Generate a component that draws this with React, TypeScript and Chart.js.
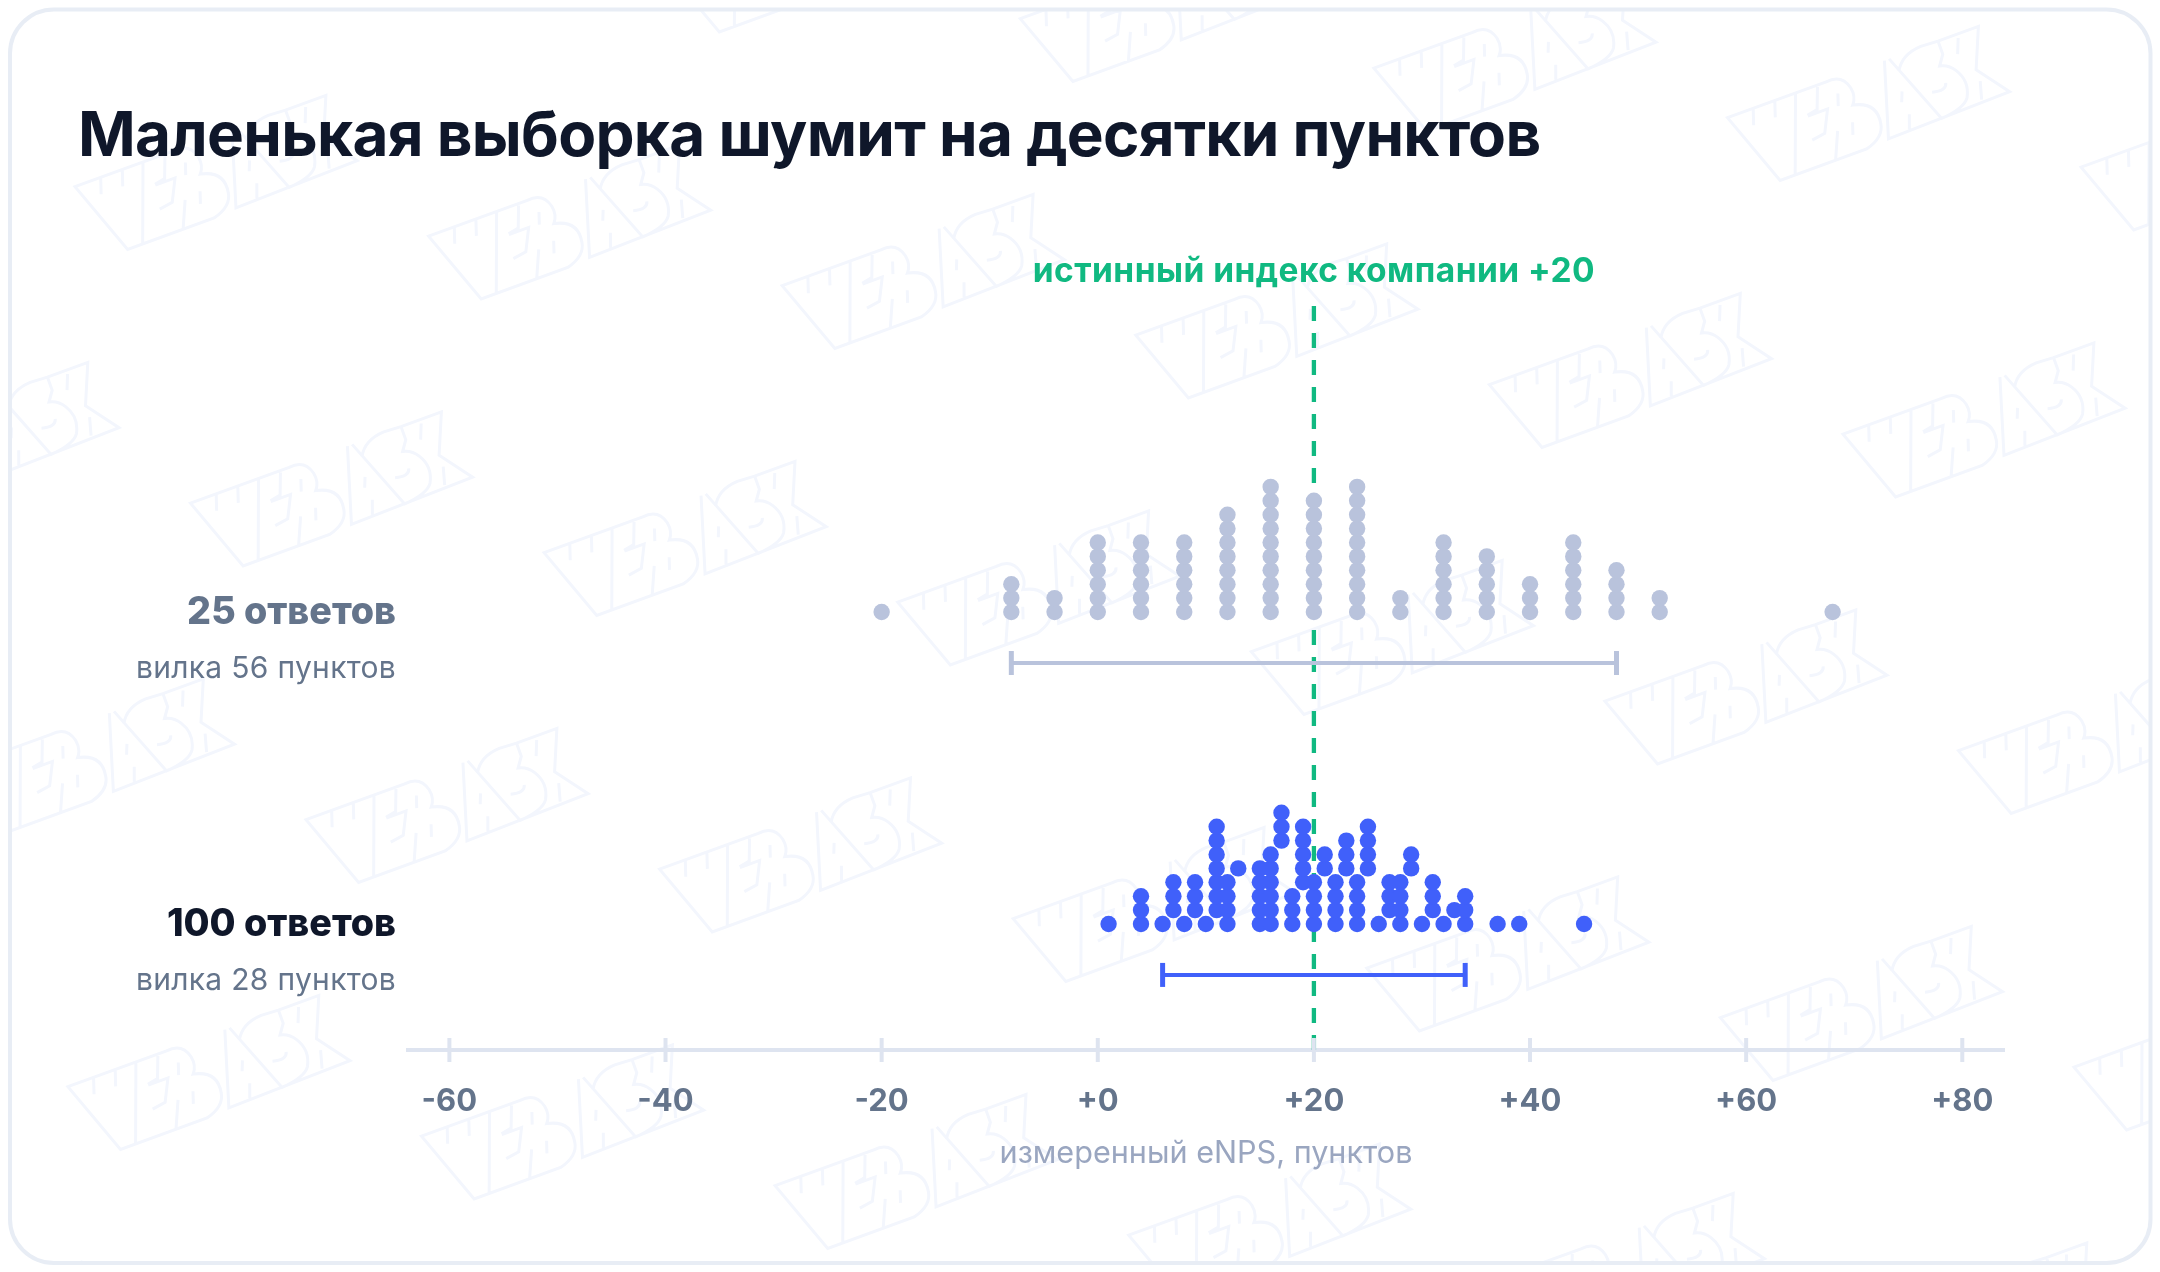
import React, { useEffect, useRef } from "react";
import { Chart, registerables } from "chart.js";

Chart.register(...registerables);

// 25 answers: one stack of dots per measured value
const smallValues = [-20, -8, -4, 0, 4, 8, 12, 16, 20, 24, 28, 32, 36, 40, 44, 48, 52, 68];
const smallCounts = [1, 3, 2, 6, 6, 6, 8, 10, 9, 10, 2, 6, 5, 3, 6, 4, 2, 1];
const smallRange = [-8, 48];

// 100 answers: stacks can start above the base row
const largeValues = [1, 4, 6, 7, 8, 9, 10, 11, 12, 13, 15, 16, 17, 18, 19, 20, 21, 22, 23, 24, 25, 26, 27, 28, 29, 30, 31, 32, 33, 34, 37, 39, 45];
const largeFirstRow = [0, 0, 0, 1, 0, 1, 0, 1, 0, 4, 0, 0, 6, 0, 3, 0, 4, 0, 4, 0, 4, 0, 1, 0, 4, 0, 1, 0, 1, 0, 0, 0, 0];
const largeCounts = [1, 3, 1, 3, 1, 3, 1, 7, 4, 1, 5, 6, 3, 3, 5, 4, 2, 4, 3, 4, 4, 1, 3, 4, 2, 1, 3, 1, 1, 3, 1, 1, 1];
const largeRange = [6, 34];

const trueIndex = 20;
const tickValues = [-60, -40, -20, 0, 20, 40, 60, 80];

const titleText = "Маленькая выборка шумит на десятки пунктов";
const truthText = "истинный индекс компании +20";
const axisTitle = "измеренный eNPS, пунктов";
const rowLabels = ["25 ответов", "100 ответов"];
const rowSubLabels = ["вилка 56 пунктов", "вилка 28 пунктов"];

// y axis is counted in dot rows from the x axis up
const SMALL_BASE = 31.51;
const LARGE_BASE = 9.065;
const SMALL_RANGE_Y = 27.84;
const LARGE_RANGE_Y = 5.4;
const Y_MAX = 53.525;

const FONT = "Inter";
const BLUE = "#4060FA";
const GREY = "#B9C3DC";
const GREEN = "#10B981";
const AXIS = "#DEE4F0";
const SLATE = "#64748B";
const INK = "#0F172A";

const stack = (values: number[], counts: number[], base: number, first?: number[]) =>
  values.flatMap((x, i) =>
    Array.from({ length: counts[i] }, (_, k) => ({ x, y: base + (first ? first[i] : 0) + k }))
  );

const WATERMARK =
  "M0,0 L105,0 Q122,-2 126,14 Q128,24 122,31 Q146,36 142,58 Q140,72 120,77 L28,77 Z " +
  "M27,1 L22,16 M50,1 L45,16 M72,1 L44,77 " +
  "M95,2 L87,23 L76,25 M76,26 L97,26 L86,48 L72,50 M99,50 L87,77 " +
  "M112,15 L108,27 M116,47 L112,59 " +
  "M167,0 L144,75 L274,72 L250,40 L267,0 L224,0 L206,-1 Q185,0 177,15 " +
  "M172,0 L201,74 Q226,72 232,63 Q240,48 231,34 Q226,26 217,24 L224,14 L224,0 " +
  "M173,35 L169,45 M172,59 L167,73 M201,46 Q215,50 217,42 " +
  "M244,4 L238,19 M250,52 L245,70";

const pagePlugin = {
  id: "page",
  beforeDraw(chart: any) {
    const { ctx } = chart;
    ctx.save();
    ctx.fillStyle = "#FFFFFF";
    ctx.fillRect(0, 0, chart.width, chart.height);
    ctx.beginPath();
    ctx.roundRect(10, 9.5, 2140.5, 1253.5, 44);
    ctx.save();
    ctx.clip();
    const mark = new Path2D(WATERMARK);
    ctx.strokeStyle = "#F3F6FD";
    ctx.lineWidth = 3;
    for (let n = -1; n < 5; n++) {
      for (let m = -3; m < 8; m++) {
        ctx.save();
        ctx.translate(75 + m * 353.6 + n * 115.5, 186.7 + m * 49.5 + n * 316.5);
        ctx.rotate((-20 * Math.PI) / 180);
        ctx.stroke(mark);
        ctx.restore();
      }
    }
    ctx.restore();
    ctx.strokeStyle = "#E8EDF5";
    ctx.lineWidth = 4;
    ctx.stroke();
    ctx.restore();
  },
};

const textPlugin = {
  id: "texts",
  afterDraw(chart: any) {
    const { ctx, scales } = chart;
    ctx.save();
    ctx.textBaseline = "alphabetic";
    ctx.fillStyle = INK;
    ctx.textAlign = "left";
    ctx.font = `700 62px ${FONT}`;
    ctx.letterSpacing = "-0.72px";
    ctx.fillText(titleText, 78, 155.5);

    ctx.fillStyle = GREEN;
    ctx.textAlign = "center";
    ctx.font = `700 33.5px ${FONT}`;
    ctx.letterSpacing = "0.46px";
    ctx.fillText(truthText, scales.x.getPixelForValue(trueIndex), 281.5);

    ctx.textAlign = "right";
    [SMALL_BASE, LARGE_BASE].forEach((base, i) => {
      const y = scales.y.getPixelForValue(base);
      ctx.fillStyle = i === 0 ? SLATE : INK;
      ctx.font = `800 37.7px ${FONT}`;
      ctx.letterSpacing = "0px";
      ctx.fillText(rowLabels[i], 396, y + 12);
      ctx.fillStyle = SLATE;
      ctx.font = `400 30px ${FONT}`;
      ctx.letterSpacing = "0.3px";
      ctx.fillText(rowSubLabels[i], 396, y + 66);
    });
    ctx.restore();
  },
};

const rangeDataset = (range: number[], y: number, color: string) => ({
  type: "line" as const,
  data: range.map((x) => ({ x, y })),
  borderColor: color,
  borderWidth: 4,
  pointStyle: "line",
  pointRotation: 90,
  pointRadius: 12,
  pointBorderWidth: 5,
  pointBorderColor: color,
  clip: false,
});

export default function App() {
  const canvasRef = useRef<HTMLCanvasElement>(null);

  useEffect(() => {
    if (!canvasRef.current) return;
    const chart = new Chart(canvasRef.current, {
      type: "scatter",
      data: {
        datasets: [
          {
            // axis ticks cross the axis both ways and sit over the dashed line
            data: tickValues.map((x) => ({ x, y: 0 })),
            pointStyle: "line",
            pointRotation: 90,
            pointRadius: 12,
            pointBorderWidth: 4,
            pointBorderColor: AXIS,
            clip: false,
          },
          {
            data: stack(largeValues, largeCounts, LARGE_BASE, largeFirstRow),
            backgroundColor: BLUE,
            pointRadius: 8.2,
            pointBorderWidth: 0,
            clip: false,
          },
          {
            data: stack(smallValues, smallCounts, SMALL_BASE),
            backgroundColor: GREY,
            pointRadius: 8.2,
            pointBorderWidth: 0,
            clip: false,
          },
          rangeDataset(largeRange, LARGE_RANGE_Y, BLUE),
          rangeDataset(smallRange, SMALL_RANGE_Y, GREY),
          {
            type: "line",
            data: [
              { x: trueIndex, y: Y_MAX },
              { x: trueIndex, y: 0 },
            ],
            borderColor: GREEN,
            borderWidth: 4.3,
            borderDash: [15, 12],
            pointRadius: 0,
            clip: false,
          },
        ] as any,
      },
      options: {
        responsive: false,
        animation: false,
        events: [],
        layout: { padding: { left: 408, right: 156, top: 306, bottom: 100.1 } },
        plugins: { legend: { display: false }, tooltip: { enabled: false } },
        scales: {
          x: {
            type: "linear",
            min: -63.83,
            max: 83.86,
            afterBuildTicks: (scale: any) => {
              scale.ticks = tickValues.map((value) => ({ value }));
            },
            grid: { display: false, drawTicks: false },
            border: { display: true, color: AXIS, width: 4 },
            ticks: {
              autoSkip: false,
              maxRotation: 0,
              padding: 33,
              color: SLATE,
              font: { family: FONT, size: 31, weight: 700 },
              callback: (v: any) => (Number(v) >= 0 ? `+${v}` : `${v}`),
            },
            title: {
              display: true,
              text: axisTitle,
              color: "#9AA6C0",
              font: { family: FONT, size: 30.6, weight: 400 },
              padding: { top: -18, bottom: 0 },
            },
          },
          y: { type: "linear", display: false, min: 0, max: Y_MAX },
        },
      },
      plugins: [pagePlugin, textPlugin],
    });
    return () => chart.destroy();
  }, []);

  return (
    <div style={{ position: "absolute", left: 0, top: 0, width: 2160, height: 1272, background: "#fff" }}>
      <canvas ref={canvasRef} width={2160} height={1272} style={{ display: "block" }} />
    </div>
  );
}
